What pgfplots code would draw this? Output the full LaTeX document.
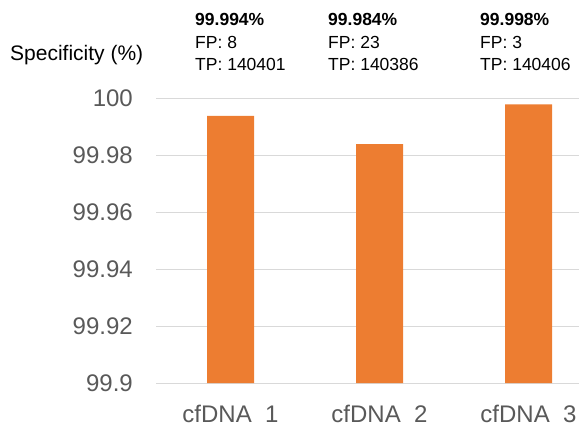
\documentclass[border=0pt]{standalone}
\usepackage{pgfplots}
\pgfplotsset{compat=1.18}
\usepackage{fontspec}
\setmainfont{Liberation Sans}
\definecolor{barorange}{HTML}{ED7D31}
\definecolor{ticktext}{HTML}{595959}
\definecolor{gridgray}{HTML}{D9D9D9}
\begin{document}
\begin{tikzpicture}
\useasboundingbox (0,0) rectangle (579bp,-426bp);
\clip (0,0) rectangle (579bp,-426bp);
\begin{axis}[
  at={(156bp,-383bp)}, anchor=south west,
  scale only axis,
  width=447bp, height=284.3bp,
  xmin=-0.5, xmax=2.5,
  ymin=99.9, ymax=100,
  axis line style={draw=none},
  major tick length=0pt,
  ymajorgrids,
  grid style={draw=gridgray, line width=1bp},
  ytick={99.9,99.92,99.94,99.96,99.98,100},
  yticklabels={99.9,99.92,99.94,99.96,99.98,100},
  xtick={0,1,2},
  xticklabels={cfDNA\ \ 1,cfDNA\ \ 2,cfDNA\ \ 3},
  /pgf/number format/assume math mode=true,
  yticklabel style={font=\fontsize{24bp}{28bp}\selectfont, text=ticktext, anchor=east, inner sep=0pt, xshift=-23bp},
  xticklabel style={font=\fontsize{24bp}{28bp}\selectfont, text=ticktext, anchor=base, inner sep=0pt, yshift=-39bp},
  clip=true,
]
\addplot[ybar, bar width=47bp, bar shift=0pt, fill=barorange, draw=none]
  coordinates {(0,99.994) (1,99.984) (2,99.998)};
\end{axis}
\node[anchor=base west, inner sep=0pt, font=\fontsize{21bp}{24bp}\selectfont] at (10bp,-60bp) {Specificity (\%)};
\foreach \x/\s/\fp/\tp in {195/99.994/8/140401, 328/99.984/23/140386, 480/99.998/3/140406}{
  \node[anchor=base west, inner sep=0pt, font=\fontsize{17.5bp}{20bp}\selectfont\bfseries] at (\x bp,-25bp) {\s\%};
  \node[anchor=base west, inner sep=0pt, font=\fontsize{17.5bp}{20bp}\selectfont] at (\x bp,-48bp) {FP: \fp};
  \node[anchor=base west, inner sep=0pt, font=\fontsize{17.5bp}{20bp}\selectfont] at (\x bp,-70bp) {TP: \tp};
}
\end{tikzpicture}
\end{document}
